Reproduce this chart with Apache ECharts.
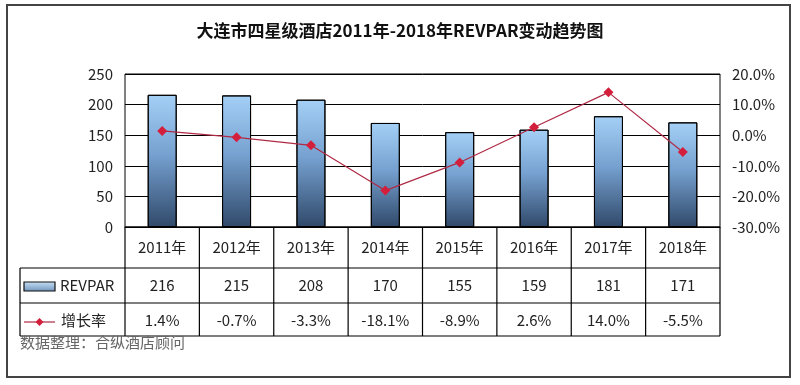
<!DOCTYPE html>
<html><head><meta charset="utf-8">
<script src="https://cdn.jsdelivr.net/npm/echarts@6/dist/echarts.min.js"></script>
<style>html,body{margin:0;padding:0;background:#fff}#c{width:800px;height:385px}</style>
</head><body><div id="c"></div>
<script>
const titleText = '大连市四星级酒店2011年-2018年REVPAR变动趋势图';
const categories = ['2011年','2012年','2013年','2014年','2015年','2016年','2017年','2018年'];
const revpar = [216, 215, 208, 170, 155, 159, 181, 171];
const growth = [1.4, -0.7, -3.3, -18.1, -8.9, 2.6, 14.0, -5.5];
const seriesNames = ['REVPAR', '增长率'];
const sourceText = '数据整理：合纵酒店顾问';

const FONT = '"Noto Sans CJK SC", "Noto Sans", sans-serif';
const chart = echarts.init(document.getElementById('c'), null, {renderer: 'canvas'});
const barGrad = new echarts.graphic.LinearGradient(0, 0, 0, 1, [
  {offset: 0, color: '#a4d0f6'},
  {offset: 0.45, color: '#76a1d0'},
  {offset: 1, color: '#30496a'}
]);
const barGradH = new echarts.graphic.LinearGradient(0, 0, 0, 1, [
  {offset: 0, color: '#c9e2f7'},
  {offset: 1, color: '#6f93bd'}
]);
const lineColor = '#b02a45';
const markerColor = '#d41f3c';

chart.setOption({
  animation: false,
  backgroundColor: '#fff',
  title: {text: titleText, left: 'center', top: 17,
    textStyle: {fontFamily: FONT, fontSize: 17, fontWeight: 'bold', color: '#111'}},
  grid: {left: 125, right: 80, top: 74, bottom: 158, show: true, borderColor: '#000', borderWidth: 1},
  xAxis: {type: 'category', data: categories, boundaryGap: true,
    axisLine: {lineStyle: {color: '#000'}}, axisTick: {show: false}, axisLabel: {show: false}},
  yAxis: [
    {type: 'value', min: 0, max: 250, interval: 50,
      axisLine: {show: false}, axisTick: {show: false},
      splitLine: {lineStyle: {color: '#000', width: 1}},
      axisLabel: {margin: 12, fontFamily: FONT, fontSize: 15, color: '#222'}},
    {type: 'value', min: -30, max: 20, interval: 10, position: 'right',
      axisLine: {show: false}, axisTick: {show: false}, splitLine: {show: false},
      axisLabel: {margin: 12, fontFamily: FONT, fontSize: 15, color: '#222',
        formatter: v => v.toFixed(1) + '%'}}
  ],
  series: [
    {name: seriesNames[0], type: 'bar', data: revpar, barWidth: 29, yAxisIndex: 0,
      itemStyle: {color: barGrad, borderColor: '#000', borderWidth: 1}},
    {name: seriesNames[1], type: 'line', data: growth, yAxisIndex: 1,
      symbol: 'diamond', symbolSize: 10,
      lineStyle: {color: lineColor, width: 1.2},
      itemStyle: {color: markerColor}}
  ]
});

// Build data table below the plot from the axis geometry
const g = [];
const gridLeft = 125, gridRight = 720, gridBottom = 227;
const row1 = 268, row2 = 303, row3 = 336, legLeft = 20;
const centers = categories.map(c => chart.convertToPixel({xAxisIndex: 0}, c));
const step = centers.length > 1 ? centers[1] - centers[0] : (gridRight - gridLeft);
const ls = {stroke: '#000', lineWidth: 1.2};
g.push({type: 'line', shape: {x1: gridLeft, y1: gridBottom, x2: gridRight, y2: gridBottom}, style: ls});
g.push({type: 'line', shape: {x1: legLeft, y1: row1, x2: gridRight, y2: row1}, style: ls});
g.push({type: 'line', shape: {x1: legLeft, y1: row2, x2: gridRight, y2: row2}, style: ls});
g.push({type: 'line', shape: {x1: legLeft, y1: row3, x2: gridRight, y2: row3}, style: ls});
g.push({type: 'line', shape: {x1: legLeft, y1: row1, x2: legLeft, y2: row3}, style: ls});
centers.forEach((cx, i) => {
  const xl = cx - step / 2;
  g.push({type: 'line', shape: {x1: xl, y1: gridBottom, x2: xl, y2: row3}, style: ls});
  if (i === centers.length - 1) {
    const xr = cx + step / 2;
    g.push({type: 'line', shape: {x1: xr, y1: gridBottom, x2: xr, y2: row3}, style: ls});
  }
  const ts = {fontFamily: FONT, fontSize: 15, fill: '#222', align: 'center', verticalAlign: 'middle'};
  g.push({type: 'text', x: cx, y: (gridBottom + row1) / 2, style: Object.assign({text: categories[i]}, ts)});
  g.push({type: 'text', x: cx, y: (row1 + row2) / 2, style: Object.assign({text: String(revpar[i])}, ts)});
  g.push({type: 'text', x: cx, y: (row2 + row3) / 2 + 1, style: Object.assign({text: growth[i].toFixed(1) + '%'}, ts)});
});
// legend keys
g.push({type: 'rect', shape: {x: 24, y: 282, width: 31, height: 9}, style: {fill: barGradH, stroke: '#111', lineWidth: 1.2}});
g.push({type: 'text', x: 60, y: (row1 + row2) / 2, style: {text: seriesNames[0], fontFamily: FONT, fontSize: 15, fill: '#222', verticalAlign: 'middle'}});
g.push({type: 'line', shape: {x1: 24, y1: 322, x2: 55, y2: 322}, style: {stroke: lineColor, lineWidth: 1.2}});
g.push({type: 'polygon', shape: {points: [[39.5, 318], [43.5, 322], [39.5, 326], [35.5, 322]]}, style: {fill: markerColor}});
g.push({type: 'text', x: 61, y: (row2 + row3) / 2 + 1, style: {text: seriesNames[1], fontFamily: FONT, fontSize: 15, fill: '#222', verticalAlign: 'middle'}});
// source
g.push({type: 'text', x: 20, y: 342, style: {text: sourceText, fontFamily: FONT, fontSize: 15, fill: '#666', verticalAlign: 'middle'}});
// outer border
g.push({type: 'rect', shape: {x: 7, y: 5, width: 783, height: 372}, style: {fill: null, stroke: '#444', lineWidth: 2}});
chart.setOption({graphic: g});
</script></body></html>
